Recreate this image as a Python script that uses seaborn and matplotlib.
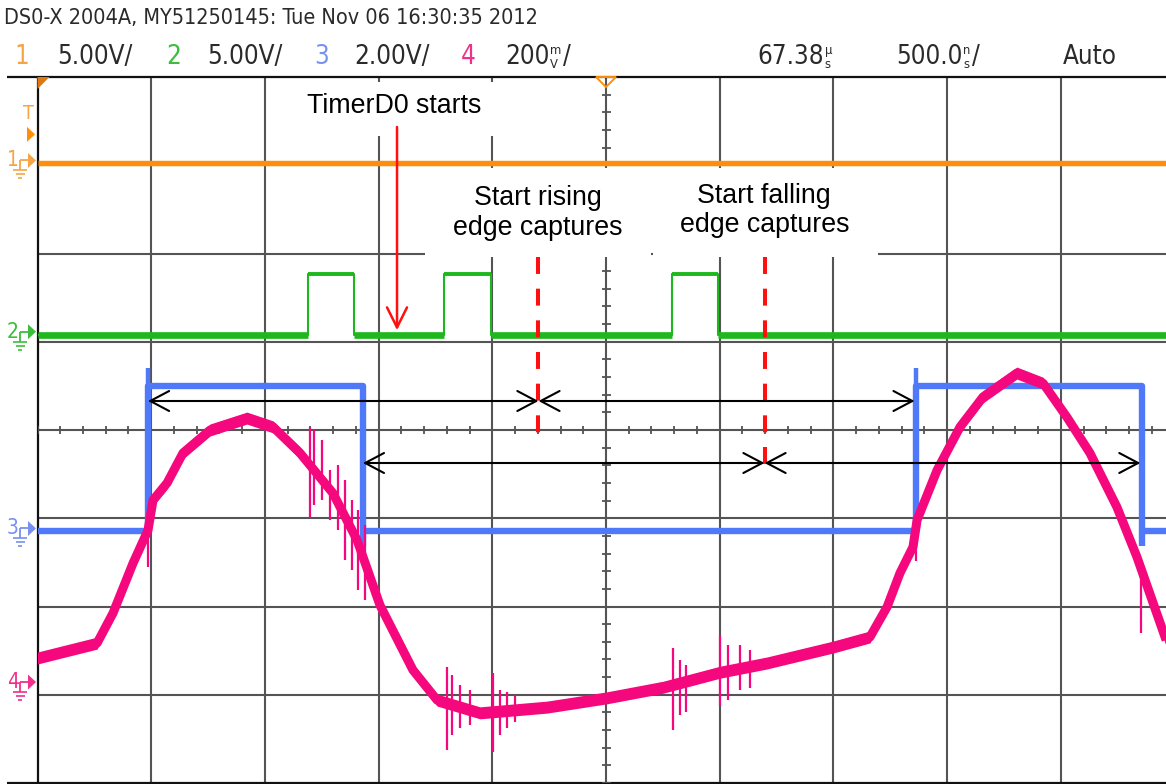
import matplotlib
matplotlib.use("Agg")
import matplotlib.pyplot as plt
import seaborn as sns
from matplotlib import font_manager
from matplotlib.patches import Polygon, Rectangle, FancyArrowPatch

sns.set_theme(style="white")
plt.rcParams["font.family"] = ["Liberation Sans", "DejaVu Sans"]
plt.rcParams["lines.scale_dashes"] = False
plt.rcParams["lines.solid_capstyle"] = "butt"

# ---------------- acquisition settings ----------------
TIME_PER_DIV = 0.5                  # µs / div  (500.0 ns/div)
T_LEFT, T_RIGHT = -2.5, 2.4626      # visible window, µs from screen centre
V_PER_DIV = {"1": 5.0, "2": 5.0, "3": 2.0, "4": 0.2}
OFFSET_DIV = {"1": 3.02, "2": 1.08, "3": -1.15, "4": -2.89}
TRACE_COLORS = {"1": "#FF8E0A", "2": "#1DB81D", "3": "#5079FA", "4": "#F5087E"}
LABEL_COLORS = {"1": "#F5A545", "2": "#3DBD3D", "3": "#7790F2", "4": "#F0308A"}

# ---------------- channel data (time in µs, level in V) ----------------
ch1_t = [T_LEFT, T_RIGHT]
ch1_v = [0.0, 0.0]
trigger_level_v = 1.65

ch2_rise = [-1.312, -0.712, 0.289]
ch2_fall = [-1.108, -0.507, 0.493]
ch2_high_v = 3.45

ch3_rise = [-2.014, 1.365]
ch3_fall = [-1.069, 2.355]
ch3_high_v = 3.3
ch3_overshoot_v = 3.71
ch3_undershoot_v = -0.34

ch4_t = [-2.502, -2.238, -2.168, -2.080, -2.014, -1.992, -1.930, -1.860, -1.741,
         -1.579, -1.464, -1.346, -1.201, -1.095, -0.994, -0.849, -0.743, -0.554,
         -0.259, 0.004, 0.251, 0.501, 0.708, 0.998, 1.161, 1.236, 1.293, 1.350,
         1.368, 1.456, 1.557, 1.658, 1.807, 1.922, 2.027, 2.128, 2.247, 2.335, 2.463]
ch4_v = [0.061, 0.095, 0.163, 0.276, 0.351, 0.419, 0.458, 0.526, 0.578,
         0.605, 0.585, 0.526, 0.435, 0.329, 0.181, 0.034, -0.034, -0.063,
         -0.050, -0.029, -0.005, 0.029, 0.050, 0.086, 0.109, 0.177, 0.254, 0.313,
         0.374, 0.487, 0.585, 0.653, 0.707, 0.684, 0.607, 0.526, 0.403, 0.290, 0.102]

# switching glitches / ringing on channel 4: time, low, high
ch4_glitch_t = [-2.014, -1.302, -1.284, -1.249, -1.214, -1.179, -1.148, -1.117,
                -1.091, -1.060, -0.699, -0.677, -0.642, -0.598, -0.497, -0.466,
                -0.435, -0.400, 0.295, 0.325, 0.352, 0.501, 0.537, 0.589, 0.633,
                1.363, 2.353]
ch4_glitch_lo = [0.267, 0.381, 0.408, 0.419, 0.374, 0.351, 0.283, 0.261,
                 0.215, 0.193, -0.147, -0.113, -0.097, -0.091, -0.152, -0.113,
                 -0.097, -0.084, -0.102, -0.068, -0.061, -0.048, -0.034, -0.011, -0.007,
                 0.281, 0.118]
ch4_glitch_hi = [0.374, 0.585, 0.578, 0.555, 0.487, 0.499, 0.465, 0.419,
                 0.397, 0.363, 0.041, 0.023, 0.000, -0.011, 0.027, -0.011,
                 -0.016, -0.023, 0.084, 0.057, 0.045, 0.113, 0.091, 0.091, 0.079,
                 0.374, 0.283]

# event markers (µs)
timer_start_t = -0.919
rising_capture_t = -0.297
falling_capture_t = 0.697

# ---------------- figure / screen geometry ----------------
W, H = 1166, 784
X0_PX, YC_PX, DIV_Y_PX = 37.5, 430.0, 88.25

fig = plt.figure(figsize=(W / 100, H / 100), dpi=100)
fig.patch.set_facecolor("white")
ax = fig.add_axes([X0_PX / W, (H - (YC_PX + 4 * DIV_Y_PX)) / H,
                   (W - X0_PX) / W, 8 * DIV_Y_PX / H])
ax.set_xlim(T_LEFT, T_RIGHT)
ax.set_ylim(-4, 4)
ax.axis("off")

ov = fig.add_axes([0, 0, 1, 1])
ov.set_xlim(0, W)
ov.set_ylim(H, 0)
ov.axis("off")
ov.set_zorder(5)
ov.patch.set_alpha(0)


def to_px(t, y):
    dx, dy = ax.transData.transform((t, y))
    return dx, H - dy


def to_data(px, py):
    return ax.transData.inverted().transform((px, H - py))


def div(ch, v):
    return OFFSET_DIV[ch] + v / V_PER_DIV[ch]


# ---------------- graticule ----------------
GRID = "#545454"
for k in range(1, 10):
    ax.plot([T_LEFT + k * TIME_PER_DIV] * 2, [-4, 4], color=GRID, lw=1.5, zorder=1)
for k in range(-3, 4):
    ax.plot([T_LEFT, T_RIGHT], [k, k], color=GRID, lw=1.5, zorder=1)
ext_left = to_data(7, 0)[0]
for yb in (-4, 4):
    ax.plot([ext_left, T_RIGHT], [yb, yb], color="#111111", lw=1.6, zorder=1, clip_on=False)
ax.plot([T_LEFT, T_LEFT], [-4, 4], color="#111111", lw=1.6, zorder=1, clip_on=False)

tick_h = 4.2 / DIV_Y_PX
tick_w = 4.5 / 113.7 * TIME_PER_DIV
for k in range(0, 50):
    tt = T_LEFT + k * TIME_PER_DIV / 5
    ax.plot([tt, tt], [-tick_h, tick_h], color=GRID, lw=1.3, zorder=1)
for k in range(0, 41):
    yy = -4 + k * 0.2
    ax.plot([-tick_w, tick_w], [yy, yy], color=GRID, lw=1.3, zorder=1)

# white label panels over the graticule
for (x0, y0, x1, y1) in [(292, 82, 500, 136), (425, 168, 651, 257), (653, 168, 878, 257)]:
    (t0, ya), (t1, yb) = to_data(x0, y1), to_data(x1, y0)
    ax.add_patch(Rectangle((t0, ya), t1 - t0, yb - ya, facecolor="white",
                           edgecolor="none", zorder=2))


# ---------------- traces ----------------
def trace(t, v, ch, lw, z=3):
    sns.lineplot(x=t, y=[div(ch, vi) for vi in v], sort=False, estimator=None,
                 color=TRACE_COLORS[ch], linewidth=lw, ax=ax, zorder=z)


def pulse_train(rises, falls, high):
    t, v = [T_LEFT], [0.0]
    for r, f in zip(rises, falls):
        t += [r, r, f, f]
        v += [0.0, high, high, 0.0]
    t.append(T_RIGHT)
    v.append(0.0)
    return t, v


# channel 1
trace(ch1_t, ch1_v, "1", 3.9)

# channel 2: thin edges, heavy baseline, noisy tops
t2, v2 = pulse_train(ch2_rise, ch2_fall, ch2_high_v)
trace(t2, v2, "2", 1.5)
low_starts = [T_LEFT] + ch2_fall
low_ends = ch2_rise + [T_RIGHT]
for a, b in zip(low_starts, low_ends):
    trace([a, b], [0.0, 0.0], "2", 4.8)
for r, f in zip(ch2_rise, ch2_fall):
    trace([r, f], [ch2_high_v, ch2_high_v], "2", 2.8)

# channel 3
t3, v3 = pulse_train(ch3_rise, ch3_fall, ch3_high_v)
trace(t3, v3, "3", 4.6)
ax.vlines(ch3_rise, div("3", ch3_high_v), div("3", ch3_overshoot_v),
          color=TRACE_COLORS["3"], lw=3.2, zorder=3)
ax.vlines(ch3_fall, div("3", ch3_undershoot_v), div("3", 0.0),
          color=TRACE_COLORS["3"], lw=4.6, zorder=3)

# channel 4: noisy band (vertical spread) plus glitches
y4 = [div("4", v) for v in ch4_v]
band = 6.0 / DIV_Y_PX
ax.fill_between(ch4_t, [y - band for y in y4], [y + band for y in y4],
                color=TRACE_COLORS["4"], lw=0, zorder=3.5)
trace(ch4_t, ch4_v, "4", 6.5, z=3.5)
ax.vlines(ch4_glitch_t, [div("4", v) for v in ch4_glitch_lo],
          [div("4", v) for v in ch4_glitch_hi], color=TRACE_COLORS["4"], lw=1.6, zorder=3.5)

ax.set_xlim(T_LEFT, T_RIGHT)
ax.set_ylim(-4, 4)
ax.axis("off")

# ---------------- annotations ----------------
RED = "#FF1010"
for tm, y_end in [(rising_capture_t, to_data(0, 438)[1]), (falling_capture_t, to_data(0, 470)[1])]:
    ln, = ax.plot([tm, tm], [to_data(0, 257)[1], y_end], color=RED, lw=2.9, zorder=4)
    ln.set_dashes((12.2, 10.6))

ax.add_patch(FancyArrowPatch((timer_start_t, to_data(0, 127)[1]),
                             (timer_start_t, div("2", 0.0) + 4.5 / DIV_Y_PX),
                             arrowstyle="->,head_length=0.72,head_width=0.36",
                             mutation_scale=20, color=RED, lw=1.8,
                             shrinkA=0, shrinkB=0, zorder=4))

row_rise = to_data(0, 401)[1]
row_fall = to_data(0, 463)[1]
spans = [(ch3_rise[0], rising_capture_t, row_rise),
         (rising_capture_t, ch3_rise[1] - 0.008, row_rise),
         (ch3_fall[0], falling_capture_t, row_fall),
         (falling_capture_t, ch3_fall[1] - 0.005, row_fall)]
for a, b, yy in spans:
    ax.add_patch(FancyArrowPatch((a, yy), (b, yy),
                                 arrowstyle="<->,head_length=0.68,head_width=0.36",
                                 mutation_scale=20, color="black", lw=1.5,
                                 shrinkA=0, shrinkB=0, zorder=4.5))

ANN = dict(fontsize=19.3, color="black", ha="center", va="baseline",
           family=["Liberation Sans", "DejaVu Sans"])
ov.text(394, 113, "TimerD0 starts", **ANN)
ov.text(538, 205, "Start rising", **ANN)
ov.text(538, 235, "edge captures", **ANN)
ov.text(764, 203, "Start falling", **ANN)
ov.text(765, 232, "edge captures", **ANN)

# ---------------- header text ----------------
names = font_manager.fontManager.ttflist
if any(e.name == "Liberation Sans Narrow" for e in names):
    HDR = dict(family="Liberation Sans Narrow")
elif any(e.name == "DejaVu Sans" and "condensed" in str(e.stretch) for e in names):
    HDR = dict(family="DejaVu Sans", stretch="condensed")
else:
    HDR = dict(family="Liberation Sans")

renderer = fig.canvas.get_renderer()


def fit(txt, width_px):
    bb = txt.get_window_extent(renderer=renderer)
    txt.set_fontsize(txt.get_fontsize() * width_px / bb.width)
    return txt.get_fontsize()


def right_edge(txt):
    return txt.get_window_extent(renderer=renderer).x1


INK = "#2a2a2a"
title = ov.text(4, 18, "DS0-X 2004A, MY51250145: Tue Nov 06 16:30:35 2012",
                color=INK, ha="left", va="center", fontsize=16, **HDR)
fit(title, 536)

probe = ov.text(57, 57, "5.00V/", color=INK, ha="left", va="center", fontsize=16, **HDR)
fs2 = fit(probe, 76)
small = fs2 * 0.5

row2 = [(14, "1", LABEL_COLORS["1"]), (166, "2", LABEL_COLORS["2"]), (207, "5.00V/", INK),
        (314, "3", LABEL_COLORS["3"]), (354, "2.00V/", INK),
        (461, "4", LABEL_COLORS["4"]), (1063, "Auto", INK)]
for x, s, c in row2:
    ov.text(x, 57, s, color=c, ha="left", va="center", fontsize=fs2, **HDR)

# readouts whose unit is printed as two stacked small letters
readouts = [(505, "200", "m", "V", True), (757, "67.38", "µ", "s", False),
            (896, "500.0", "n", "s", True)]
for x, num, top, bot, slash in readouts:
    t_num = ov.text(x, 57, num, color=INK, ha="left", va="center", fontsize=fs2, **HDR)
    xr = right_edge(t_num) + 1
    t_top = ov.text(xr, 50, top, color=INK, ha="left", va="center", fontsize=small, **HDR)
    t_bot = ov.text(xr, 64, bot, color=INK, ha="left", va="center", fontsize=small, **HDR)
    if slash:
        xs = max(right_edge(t_top), right_edge(t_bot)) + 1
        ov.text(xs, 57, "/", color=INK, ha="left", va="center", fontsize=fs2, **HDR)


# ---------------- channel ground / trigger markers ----------------
def ground_marker(ch):
    yc = to_px(T_LEFT, OFFSET_DIV[ch])[1] - 3
    col = LABEL_COLORS[ch]
    ov.text(13, yc, ch, color=col, ha="center", va="center", fontsize=15, **HDR)
    ov.plot([20, 28], [yc, yc], color=col, lw=1.3)
    ov.plot([20, 20], [yc, yc + 10], color=col, lw=1.3)
    for dy, hw in [(10, 7), (14, 4.5), (18, 2)]:
        ov.plot([20 - hw, 20 + hw], [yc + dy, yc + dy], color=col, lw=1.2)
    ov.add_patch(Polygon([[28, yc - 7.5], [28, yc + 7.5], [36, yc]], closed=True,
                         facecolor=col, edgecolor="none"))


for ch in ("1", "2", "3", "4"):
    ground_marker(ch)

trig_y = to_px(T_LEFT, div("1", trigger_level_v))[1]
ov.text(28, trig_y - 21, "T", color=LABEL_COLORS["1"], ha="center", va="center",
        fontsize=14, **HDR)
ov.add_patch(Polygon([[27, trig_y - 7.5], [27, trig_y + 7.5], [35, trig_y]], closed=True,
                     facecolor=TRACE_COLORS["1"], edgecolor="none"))

left_px, top_px = to_px(T_LEFT, 4)
ov.add_patch(Polygon([[left_px, top_px], [left_px + 12, top_px], [left_px, top_px + 12]],
                     closed=True, facecolor="#E07810", edgecolor="none"))
cx, _ = to_px(0.0, 4)
ov.add_patch(Polygon([[cx - 10, top_px], [cx + 10, top_px], [cx, top_px + 10]],
                     closed=True, facecolor="none", edgecolor=TRACE_COLORS["1"], lw=1.4))

fig.savefig("out.png", dpi=100, facecolor="white")
